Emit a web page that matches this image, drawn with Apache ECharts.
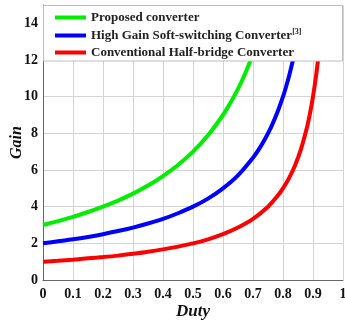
<!DOCTYPE html>
<html>
<head>
<meta charset="utf-8">
<script src="https://cdn.jsdelivr.net/npm/echarts@6/dist/echarts.min.js"></script>
<style>
html,body{margin:0;padding:0;background:#fff;}
#c{width:345px;height:326px;}
</style>
</head>
<body>
<div id="c"></div>
<script>
// Series names
const seriesNames = ['Proposed converter', 'High Gain Soft-switching Converter', 'Conventional Half-bridge Converter'];
// Duty / Gain pairs
const proposedDuty = [0, 0.05, 0.1, 0.15, 0.2, 0.25, 0.3, 0.35, 0.4, 0.45, 0.5, 0.55, 0.6, 0.62, 0.64, 0.66, 0.68, 0.6923];
const proposedGain = [3.00, 3.21, 3.44, 3.71, 4.00, 4.33, 4.71, 5.15, 5.67, 6.27, 7.00, 7.89, 9.00, 9.53, 10.11, 10.76, 11.50, 12.00];
const highGainDuty = [0, 0.05, 0.1, 0.15, 0.2, 0.25, 0.3, 0.35, 0.4, 0.45, 0.5, 0.55, 0.6, 0.65, 0.7, 0.72, 0.74, 0.76, 0.78, 0.8, 0.81, 0.82, 0.8333];
const highGainGain = [2.00, 2.11, 2.22, 2.35, 2.50, 2.67, 2.86, 3.08, 3.33, 3.64, 4.00, 4.44, 5.00, 5.71, 6.67, 7.14, 7.69, 8.33, 9.09, 10.00, 10.53, 11.11, 12.00];
const convDuty = [0, 0.05, 0.1, 0.15, 0.2, 0.25, 0.3, 0.35, 0.4, 0.45, 0.5, 0.55, 0.6, 0.65, 0.7, 0.75, 0.78, 0.8, 0.82, 0.84, 0.86, 0.88, 0.89, 0.9, 0.91, 0.9167];
const convGain = [1.00, 1.05, 1.11, 1.18, 1.25, 1.33, 1.43, 1.54, 1.67, 1.82, 2.00, 2.22, 2.50, 2.86, 3.33, 4.00, 4.55, 5.00, 5.56, 6.25, 7.14, 8.33, 9.09, 10.00, 11.11, 12.00];
// Tick labels
const xTicks = [0, 0.1, 0.2, 0.3, 0.4, 0.5, 0.6, 0.7, 0.8, 0.9, 1];
const yTicks = [0, 2, 4, 6, 8, 10, 12, 14];

const colors = ['#00ee00', '#0000ff', '#ff0000'];
const serif = '"Liberation Serif", "Times New Roman", serif';

function pairs(xs, ys) { return xs.map((x, i) => [x, ys[i]]); }

const chart = echarts.init(document.getElementById('c'), null, {renderer: 'canvas'});
const gridLeft = 43, gridTop = 5, gridRight = 2, gridBottom = 46;

chart.setOption({
  animation: false,
  backgroundColor: '#fff',
  grid: {left: gridLeft, top: gridTop, right: gridRight, bottom: gridBottom, containLabel: false, outerBoundsMode: 'none'},
  xAxis: {
    type: 'value', min: 0, max: 1, interval: 0.1,
    name: 'Duty', nameLocation: 'middle', nameGap: 23, nameMoveOverlap: false,
    nameTextStyle: {fontFamily: serif, fontWeight: 'bold', fontStyle: 'italic', fontSize: 17, color: '#111'},
    axisLine: {show: true, onZero: false, lineStyle: {color: '#666', width: 1}},
    axisTick: {show: false},
    axisLabel: {
      margin: 7, fontFamily: serif, fontWeight: 'bold', fontSize: 14, color: '#111',
      formatter: v => { const t = xTicks.find(k => Math.abs(k - v) < 1e-6); return t === undefined ? '' : (t === 0 || t === 1 ? String(t) : t.toFixed(1)); }
    },
    splitLine: {show: true, lineStyle: {color: '#d4d4d4', width: 1}}
  },
  yAxis: {
    type: 'value', min: 0, max: 15, interval: 2,
    name: 'Gain', nameLocation: 'middle', nameGap: 18, nameMoveOverlap: false,
    nameTextStyle: {fontFamily: serif, fontWeight: 'bold', fontStyle: 'italic', fontSize: 16, color: '#111'},
    axisLine: {show: true, onZero: false, lineStyle: {color: '#666', width: 1}},
    axisTick: {show: false},
    axisLabel: {
      margin: 5, fontFamily: serif, fontWeight: 'bold', fontSize: 14, color: '#111',
      formatter: v => yTicks.indexOf(v) >= 0 ? String(v) : ''
    },
    splitLine: {show: true, lineStyle: {color: '#d4d4d4', width: 1}}
  },
  legend: {
    orient: 'vertical', left: 50, top: 6, itemGap: 4,
    icon: 'rect', itemWidth: 31, itemHeight: 4,
    data: seriesNames,
    formatter: name => name === seriesNames[1] ? '{t|' + name + '}{s|[3]}' : '{t|' + name + '}',
    textStyle: {
      fontFamily: serif, fontWeight: 'bold', fontSize: 13, color: '#222',
      rich: {
        t: {fontFamily: serif, fontWeight: 'bold', fontSize: 13, color: '#222', lineHeight: 15},
        s: {fontFamily: serif, fontWeight: 'bold', fontSize: 8, color: '#222', verticalAlign: 'top', padding: [0, 0, 6, 0]}
      }
    },
    z: 20
  },
  graphic: [{
    type: 'rect', z: 10, silent: true,
    shape: {x: gridLeft + 0.5, y: gridTop + 0.5, width: 345 - gridLeft - gridRight - 1, height: 55.5},
    style: {fill: '#fff', stroke: '#bdbdbd', lineWidth: 1}
  }],
  series: [
    {name: seriesNames[0], type: 'line', data: pairs(proposedDuty, proposedGain), smooth: 0.3, symbol: 'none', lineStyle: {color: colors[0], width: 4}, itemStyle: {color: colors[0]}, z: 3},
    {name: seriesNames[1], type: 'line', data: pairs(highGainDuty, highGainGain), smooth: 0.3, symbol: 'none', lineStyle: {color: colors[1], width: 4}, itemStyle: {color: colors[1]}, z: 3},
    {name: seriesNames[2], type: 'line', data: pairs(convDuty, convGain), smooth: 0.3, symbol: 'none', lineStyle: {color: colors[2], width: 4}, itemStyle: {color: colors[2]}, z: 3}
  ]
});
</script>
</body>
</html>
